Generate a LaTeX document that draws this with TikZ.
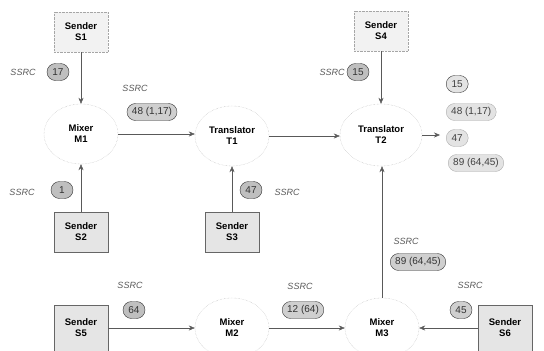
\documentclass[tikz,border=0pt]{standalone}
\usepackage{fontspec}
\setmainfont{Liberation Sans}
\usetikzlibrary{arrows.meta,shapes.geometric}
\begin{document}
\begin{tikzpicture}[x=1pt,y=-1pt,
 sendbox/.style={draw=gray!80!black, fill=gray!20, minimum width=54pt, minimum height=40pt, align=center, font=\bfseries\fontsize{9.5}{11}\selectfont, inner sep=1pt},
 dotbox/.style={sendbox, densely dotted, draw=gray!70, fill=gray!10},
 proc/.style={ellipse, draw=gray!60, densely dotted, fill=white, minimum width=74pt, minimum height=60pt, align=center, font=\bfseries\fontsize{9.5}{11}\selectfont, inner sep=0pt},
 pill/.style={rounded corners=8.5pt, draw=gray!40!black, fill=gray!50, text=black!80, minimum height=17pt, minimum width=22pt, inner xsep=5pt, inner ysep=0pt, font=\fontsize{10}{11}\selectfont},
 mpill/.style={pill, fill=gray!38},
 lpill/.style={pill, fill=gray!22, draw=gray!65, text=black!75},
 ssrc/.style={font=\itshape\fontsize{9}{10}\selectfont, text=gray!70!black},
 flow/.style={draw=gray!70!black, -{Stealth[length=6pt,width=5pt]}},
]
\useasboundingbox (0,0) rectangle (544,351);
% main nodes
\node[dotbox] (s1) at (81,32) {Sender\\S1};
\node[proc] (m1) at (81,134) {Mixer\\M1};
\node[sendbox] (s2) at (81,232) {Sender\\S2};
\node[proc] (t1) at (232,136) {Translator\\T1};
\node[sendbox] (s3) at (232,232) {Sender\\S3};
\node[dotbox] (s4) at (381,31) {Sender\\S4};
\node[proc, minimum width=82pt, minimum height=62pt] (t2) at (381,135) {Translator\\T2};
\node[sendbox, minimum height=46pt] (s5) at (81,328) {Sender\\S5};
\node[proc] (m2) at (232,328) {Mixer\\M2};
\node[proc] (m3) at (382,328) {Mixer\\M3};
\node[sendbox, minimum height=46pt] (s6) at (505,328) {Sender\\S6};
\coordinate (out) at (440,135);
% connectors
\draw[flow] (s1) -- (m1);
\draw[flow] (s2) -- (m1);
\draw[flow] (m1.east) -- (m1.east -| t1.west);
\draw[flow] (s3) -- (t1);
\draw[flow] (t1.east) -- (t1.east -| t2.west);
\draw[flow] (s4) -- (t2);
\draw[flow] (m3) -- (m3 |- t2.south);
\draw[flow] (t2.east) -- (out);
\draw[flow] (s5) -- (m2);
\draw[flow] (m2) -- (m3);
\draw[flow] (s6) -- (m3);
% labels
\node[ssrc] (l1) at (23,72) {SSRC};
\node[pill] (p1) at (58,72) {17};
\node[ssrc] (l2) at (135,88) {SSRC};
\node[mpill] (p2) at (152,112) {48 (1,17)};
\node[ssrc] (l3) at (22,192) {SSRC};
\node[pill] (p3) at (62,190) {1};
\node[pill] (p4) at (251,190) {47};
\node[ssrc] (l4) at (287,192) {SSRC};
\node[ssrc] (l5) at (332,72) {SSRC};
\node[pill] (p5) at (358,72) {15};
\node[lpill, anchor=west, draw=gray!40!black] (o1) at (446,84) {15};
\node[lpill, anchor=west] (o2) at (446,112) {48 (1,17)};
\node[lpill, anchor=west] (o3) at (446,138) {47};
\node[lpill, anchor=west] (o4) at (448,163) {89 (64,45)};
\node[ssrc] (l6) at (406,241) {SSRC};
\node[mpill] (p6) at (418,262) {89 (64,45)};
\node[ssrc] (l7) at (130,285) {SSRC};
\node[pill] (p7) at (134,310) {64};
\node[ssrc] (l8) at (300,286) {SSRC};
\node[mpill] (p8) at (303,310) {12 (64)};
\node[ssrc] (l9) at (470,285) {SSRC};
\node[mpill] (p9) at (461,310) {45};
\end{tikzpicture}
\end{document}
